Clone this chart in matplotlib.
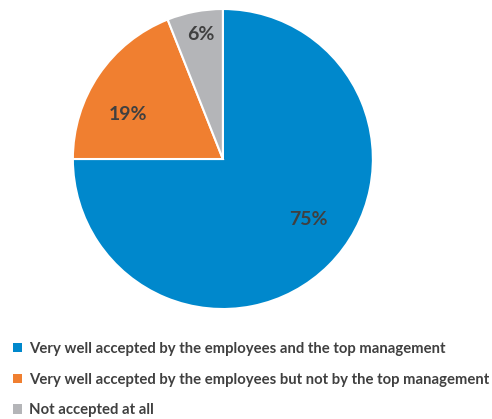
import matplotlib.pyplot as plt

# valeurs
categories = ['Very well accepted by the employees and the top management',
              'Very well accepted by the employees but not by the top management',
              'Not accepted at all']
values = [75, 19, 6]
colors = ['#0088CC', '#F07F30', '#B4B5B8']
label_pos = [(0.57, -0.40), (-0.63, 0.30), (-0.15, 0.83)]

plt.rcParams['font.family'] = ['Lato', 'DejaVu Sans']

fig = plt.figure(figsize=(4.92, 4.19), dpi=100)
ax = fig.add_axes([0.148, 0.2625, 0.61, 0.716])

wedges, texts, autotexts = ax.pie(values, colors=colors, startangle=90, counterclock=False,
                                  autopct='%d%%', pctdistance=0.7,
                                  wedgeprops=dict(edgecolor='white', linewidth=1.5),
                                  textprops=dict(color='#404040', fontsize=14, fontweight='bold'))
for t, pos in zip(autotexts, label_pos):
    t.set_position(pos)
ax.set_xlim(-1.0, 1.0)
ax.set_ylim(-1.0, 1.0)
ax.set_aspect('equal')

leg = fig.legend(wedges, categories, loc='upper left', bbox_to_anchor=(0.026, 0.184),
                 frameon=False, borderpad=0, borderaxespad=0,
                 handlelength=0.6, handleheight=0.6, handletextpad=0.5,
                 labelspacing=1.12, prop=dict(size=10.7, weight='bold'))
for txt in leg.get_texts():
    txt.set_color('#404040')
for h in leg.legend_handles:
    h.set_edgecolor('none')

fig.savefig('out.png', dpi=100)
